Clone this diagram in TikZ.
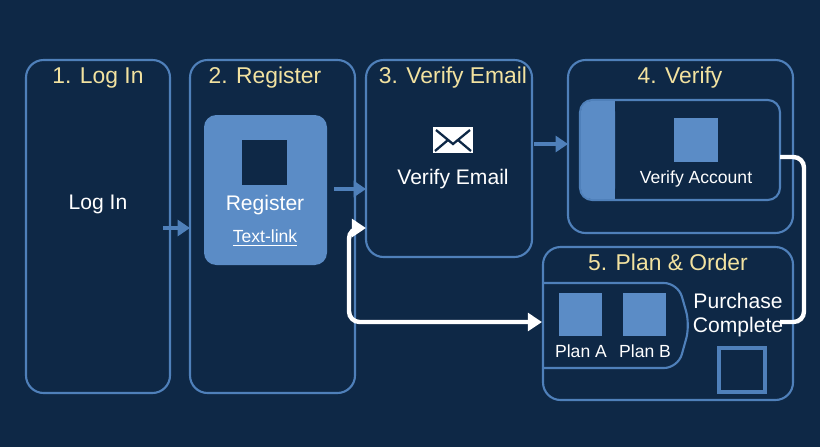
\documentclass[tikz,border=0pt]{standalone}
\usepackage{fontspec}
\setmainfont{Liberation Sans}
\usepackage{tikz}
\usetikzlibrary{arrows.meta}
\definecolor{bgnavy}{HTML}{0E2846}
\definecolor{edgeblue}{HTML}{4F80BA}
\definecolor{fillblue}{HTML}{5B8CC6}
\definecolor{titlecream}{HTML}{F2E2A0}
\tikzset{
  stage/.style={draw=edgeblue, line width=1.2pt, rounded corners=10pt},
  stagetitle/.style={text=titlecream, font=\fontsize{13}{15}\selectfont},
  label/.style={text=white, font=\fontsize{12}{14}\selectfont},
  small/.style={text=white, font=\fontsize{10}{12}\selectfont},
  flow/.style={draw=edgeblue, line width=2.5pt, -{Triangle[length=7pt,width=9pt]}},
  loop/.style={draw=white, line width=2.5pt, rounded corners=6pt}
}
\begin{document}
\begin{tikzpicture}[x=0.02cm, y=-0.02cm]
    % background
    \fill [bgnavy] (0, 0) rectangle (820, 447);

    % stage frames
    \draw [stage] (26, 60) rectangle (170, 393);
    \draw [stage] (190, 60) rectangle (355, 393);
    \draw [stage] (366, 60) rectangle (532, 257);
    \draw [stage] (568, 60) rectangle (793, 233);
    \draw [stage] (543, 247) rectangle (793, 400);

    \node [stagetitle] (t1) at (98, 78) {1. Log In};
    \node [stagetitle] (t2) at (265, 78) {2. Register};
    \node [stagetitle] (t3) at (453, 78) {3. Verify Email};
    \node [stagetitle] (t4) at (680, 78) {4. Verify};
    \node [stagetitle] (t5) at (668, 262) {5. Plan \& Order};

    % log in
    \node [label] (login) at (98, 204) {Log In};

    % register card
    \fill [fillblue, rounded corners=7pt] (204, 115) rectangle (327, 265);
    \fill [bgnavy] (242, 140) rectangle (287, 185);
    \node [label] (register) at (265, 205) {Register};
    \node [small] (textlink) at (265, 238) {\underline{Text-link}};

    % verify email
    \begin{scope}[shift={(453, 140)}]
      \fill [white] (-20, -13) rectangle (20, 13);
      \draw [bgnavy, line width=1.3pt] (-17, -10) -- (0, 4) -- (17, -10);
      \draw [bgnavy, line width=1.3pt] (-18, 11) -- (-5, 0) (18, 11) -- (5, 0);
    \end{scope}
    \node [label] (email) at (453, 179) {Verify Email};

    % verify account
    \draw [stage, rounded corners=7pt] (580, 100) rectangle (780, 200);
    \fill [fillblue, rounded corners=6pt] (581, 101) rectangle (615, 199);
    \fill [fillblue] (604, 101) rectangle (615, 199);
    \fill [fillblue] (674, 118) rectangle (718, 162);
    \node [small] (account) at (696, 179) {Verify Account};

    % plans
    \draw [stage, rounded corners=8pt] (543, 283) -- (678, 283) -- (690, 325)
      -- (678, 368) -- (543, 368);
    \fill [fillblue] (559, 293) rectangle (602, 336);
    \fill [fillblue] (623, 293) rectangle (666, 336);
    \node [small] (plana) at (581, 351) {Plan A};
    \node [small] (planb) at (645, 351) {Plan B};
    \node [label, align=center] (purchase) at (738, 315) {Purchase\\Complete};
    \draw [edgeblue, line width=2.5pt] (719, 348) rectangle (765, 392);

    % connectors
    \coordinate (a1) at (163, 228);
    \coordinate (a2) at (190, 228);
    \draw [flow] (a1) -- (a2);
    \coordinate (b1) at (334, 189);
    \coordinate (b2) at (366, 189);
    \draw [flow] (b1) -- (b2);
    \coordinate (c1) at (534, 144);
    \coordinate (c2) at (568, 144);
    \draw [flow] (c1) -- (c2);

    \coordinate (d1) at (780, 157);
    \coordinate (d2) at (780, 322);
    \draw [loop] (d1) -- (804, 157) -- (804, 322) -- (d2);
    \coordinate (e1) at (366, 228);
    \coordinate (e2) at (542, 322);
    \draw [loop, {Triangle[length=8pt,width=10pt]}-{Triangle[length=8pt,width=10pt]}]
      (e1) -- (349, 228) -- (349, 322) -- (e2);
\end{tikzpicture}
\end{document}
